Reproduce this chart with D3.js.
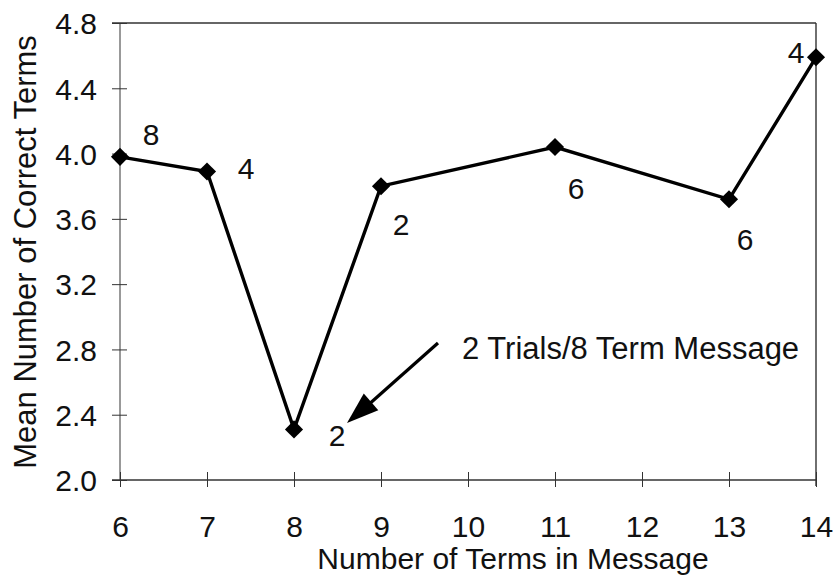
<!DOCTYPE html>
<html><head><meta charset="utf-8">
<script src="https://cdn.jsdelivr.net/npm/d3@7"></script>
<style>body{margin:0;background:#fff;} text{font-family:"Liberation Sans",Arial,sans-serif;fill:#111;}</style>
</head><body><svg id="c" width="837" height="578"></svg>
<script>
const xCategories = ["6","7","8","9","10","11","12","13","14"];
const pointX = ["6","7","8","9","11","13","14"];
const meanCorrect = [3.98, 3.89, 2.31, 3.80, 4.04, 3.72, 4.59];
const trialCounts = ["8","4","2","2","6","6","4"];
const yTicks = [2.0, 2.4, 2.8, 3.2, 3.6, 4.0, 4.4, 4.8];
const annotationText = "2 Trials/8 Term Message";

const svg = d3.select("#c");
const L = 120, R = 816, T = 23, B = 480;
const x = d3.scalePoint().domain(xCategories).range([L, R]);
const y = d3.scaleLinear().domain([2.0, 4.8]).range([B, T]);

// frame
svg.append("line").attr("x1", L - 8).attr("x2", R).attr("y1", T).attr("y2", T).attr("stroke", "#333").attr("stroke-width", 1.4);
svg.append("line").attr("x1", R).attr("x2", R).attr("y1", T).attr("y2", B + 6).attr("stroke", "#333").attr("stroke-width", 1.4);
svg.append("line").attr("x1", L).attr("x2", L).attr("y1", T).attr("y2", B).attr("stroke", "#555").attr("stroke-width", 1.2);
svg.append("line").attr("x1", L - 8).attr("x2", R).attr("y1", B).attr("y2", B).attr("stroke", "#333").attr("stroke-width", 1.4);

// y axis
const ya = svg.append("g").attr("transform", `translate(${L},0)`)
  .call(d3.axisLeft(y).tickValues(yTicks).tickFormat(d3.format(".1f")).tickSizeInner(8).tickSizeOuter(0).tickPadding(15));
ya.select(".domain").remove();
ya.selectAll(".tick line").attr("x2", -8).attr("x1", 7).attr("stroke", "#333");
ya.selectAll(".tick text").attr("font-size", 30).attr("dy", "0.36em");

// x axis
const xa = svg.append("g").attr("transform", `translate(0,${B})`)
  .call(d3.axisBottom(x).tickSizeInner(8).tickSizeOuter(0).tickPadding(28));
xa.select(".domain").remove();
xa.selectAll(".tick line").attr("y1", -8).attr("y2", 7).attr("stroke", "#333");
xa.selectAll(".tick text").attr("font-size", 30);

// titles
svg.append("text").attr("x", 513).attr("y", 569).attr("text-anchor", "middle")
  .attr("font-size", 30).text("Number of Terms in Message");
svg.append("text").attr("transform", "translate(36,252) rotate(-90)").attr("text-anchor", "middle")
  .attr("font-size", 31).text("Mean Number of Correct Terms");

// data
const data = pointX.map((k, i) => ({k, v: meanCorrect[i], n: trialCounts[i]}));
svg.append("path").datum(data)
  .attr("d", d3.line().x(d => x(d.k)).y(d => y(d.v)))
  .attr("fill", "none").attr("stroke", "#000").attr("stroke-width", 3.4);
svg.selectAll(".pt").data(data).join("path")
  .attr("d", d3.symbol(d3.symbolDiamond2, 210))
  .attr("transform", d => `translate(${x(d.k)},${y(d.v)})`).attr("fill", "#000");

// count labels (offsets)
const offs = [[31,-22],[39,-3],[43,6],[20,38],[21,41],[16,40],[-20,-5]];
svg.selectAll(".lbl").data(data).join("text")
  .attr("x", (d, i) => x(d.k) + offs[i][0]).attr("y", (d, i) => y(d.v) + offs[i][1])
  .attr("text-anchor", "middle").attr("dominant-baseline", "central")
  .attr("font-size", 30).text(d => d.n);

// annotation
svg.append("text").attr("x", 462).attr("y", 359).attr("font-size", 31).text(annotationText);
const ax0 = 438, ay0 = 343, ax1 = 347, ay1 = 423;
svg.append("line").attr("x1", ax0).attr("y1", ay0).attr("x2", ax1 + 20).attr("y2", ay1 - 17)
  .attr("stroke", "#000").attr("stroke-width", 3.2);
const ang = Math.atan2(ay1 - ay0, ax1 - ax0);
const hl = 32, hw = 11;
const bx = ax1 - hl * Math.cos(ang), by = ay1 - hl * Math.sin(ang);
svg.append("path").attr("d", `M${ax1},${ay1} L${bx - hw * Math.sin(ang)},${by + hw * Math.cos(ang)} L${bx + hw * Math.sin(ang)},${by - hw * Math.cos(ang)} Z`)
  .attr("fill", "#000");
</script></body></html>
